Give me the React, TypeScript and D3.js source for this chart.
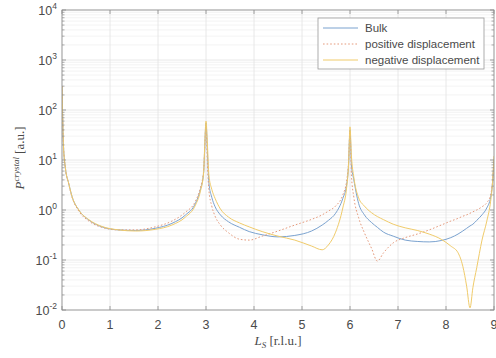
import React from 'react';
import * as d3 from 'd3';

// L_S sample positions (r.l.u.)
const L = [0, 0.03, 0.07, 0.14, 0.21, 0.35, 0.56, 0.83, 1.18, 1.53, 1.94, 2.29, 2.57, 2.78, 2.88, 2.95, 2.97, 3.0, 3.03, 3.06, 3.12, 3.19, 3.3, 3.47, 3.7, 3.9, 4.17, 4.5, 4.85, 5.2, 5.42, 5.55, 5.7, 5.85, 5.93, 5.97, 6.0, 6.03, 6.08, 6.18, 6.3, 6.45, 6.57, 6.7, 6.9, 7.15, 7.4, 7.65, 7.9, 8.1, 8.25, 8.35, 8.43, 8.5, 8.56, 8.64, 8.75, 8.85, 8.93, 8.97, 9.0];

const bulk = [300, 20, 7, 3.4, 1.85, 1.0, 0.63, 0.46, 0.4, 0.39, 0.43, 0.54, 0.79, 1.36, 2.5, 5.5, 14, 55, 14, 3.5, 1.8, 1.16, 0.8, 0.58, 0.45, 0.37, 0.32, 0.29, 0.31, 0.38, 0.5, 0.62, 0.86, 1.7, 3.2, 8, 40, 8, 4, 1.35, 0.8, 0.56, 0.45, 0.36, 0.3, 0.25, 0.235, 0.23, 0.245, 0.28, 0.33, 0.38, 0.43, 0.48, 0.52, 0.62, 0.8, 1.1, 1.8, 3.5, 10];

const positive = [300, 20, 7, 3.3, 1.8, 0.95, 0.6, 0.45, 0.4, 0.4, 0.46, 0.6, 0.9, 1.5, 2.7, 6, 14, 50, 8, 2.5, 1.2, 0.75, 0.5, 0.35, 0.26, 0.25, 0.3, 0.38, 0.5, 0.65, 0.8, 0.95, 1.2, 2.0, 3.8, 9, 38, 5, 1.8, 0.7, 0.35, 0.17, 0.095, 0.14, 0.22, 0.28, 0.33, 0.4, 0.5, 0.6, 0.68, 0.75, 0.8, 0.86, 0.92, 1.0, 1.16, 1.4, 2.0, 3.8, 10];

const negative = [300, 20, 7, 3.4, 1.85, 1.0, 0.64, 0.47, 0.4, 0.38, 0.41, 0.5, 0.72, 1.25, 2.3, 5.5, 16, 60, 20, 5, 2.6, 1.7, 1.05, 0.72, 0.55, 0.46, 0.37, 0.3, 0.25, 0.19, 0.16, 0.2, 0.36, 1.1, 2.8, 8, 46, 12, 4.5, 1.75, 1.2, 0.88, 0.74, 0.64, 0.52, 0.44, 0.39, 0.33, 0.26, 0.19, 0.14, 0.075, 0.03, 0.011, 0.028, 0.07, 0.25, 0.6, 1.5, 3.5, 12];

const xTicks = [0, 1, 2, 3, 4, 5, 6, 7, 8, 9];
const yExponents = [-2, -1, 0, 1, 2, 3, 4];
const seriesNames = ['Bulk', 'positive displacement', 'negative displacement'];

const W = 496;
const H = 358;
const PL = 62, PR = 494, PT = 10, PB = 310;

const COLORS = ['#7aa2cf', '#e59a7c', '#f0cb6a'];
const DASH = [undefined, '1.6 2', undefined];

export default function App() {
  const x = d3.scaleLinear().domain([0, 9]).range([PL, PR]);
  const y = d3.scaleLog().domain([1e-2, 1e4]).range([PB, PT]);

  const lineGen = d3
    .line<number>()
    .x((_, i) => x(L[i]))
    .y((d) => y(d))
    .curve(d3.curveMonotoneX);

  const series = [bulk, positive, negative];

  const minor: number[] = [];
  for (let e = -2; e < 4; e++) {
    for (let k = 2; k <= 9; k++) minor.push(k * Math.pow(10, e));
  }

  const axisColor = '#8c8c8c';
  const textColor = '#4a4a4a';
  const font = "'Liberation Sans', Arial, Helvetica, sans-serif";
  const serif = "'Liberation Serif', 'DejaVu Serif', serif";

  return (
    <svg width={W} height={H} style={{ position: 'absolute', left: 0, top: 0, background: '#fff' }}>
      <defs>
        <clipPath id="plotclip">
          <rect x={PL} y={PT} width={PR - PL} height={PB - PT} />
        </clipPath>
      </defs>
      <rect x={PL} y={PT} width={PR - PL} height={PB - PT} fill="#fff" />
      {/* minor grid */}
      {minor.map((v, i) => (
        <line key={'mg' + i} x1={PL} x2={PR} y1={y(v)} y2={y(v)} stroke="#f0f0f0" strokeWidth={0.8} />
      ))}
      {/* major grid */}
      {yExponents.map((e) => (
        <line key={'yg' + e} x1={PL} x2={PR} y1={y(Math.pow(10, e))} y2={y(Math.pow(10, e))} stroke="#e2e2e2" strokeWidth={0.8} />
      ))}
      {xTicks.map((t) => (
        <line key={'xg' + t} x1={x(t)} x2={x(t)} y1={PT} y2={PB} stroke="#e2e2e2" strokeWidth={0.8} />
      ))}
      {/* series */}
      <g clipPath="url(#plotclip)">
        {series.map((s, i) => (
          <path key={'s' + i} d={lineGen(s) || ''} fill="none" stroke={COLORS[i]} strokeWidth={1} strokeDasharray={DASH[i]} />
        ))}
      </g>
      {/* axes box */}
      <rect x={PL} y={PT} width={PR - PL} height={PB - PT} fill="none" stroke={axisColor} strokeWidth={0.8} />
      {/* x ticks */}
      {xTicks.map((t) => (
        <g key={'xt' + t}>
          <line x1={x(t)} x2={x(t)} y1={PB} y2={PB - 4} stroke={axisColor} strokeWidth={0.8} />
          <line x1={x(t)} x2={x(t)} y1={PT} y2={PT + 4} stroke={axisColor} strokeWidth={0.8} />
          <text x={x(t)} y={PB + 19} textAnchor="middle" fontFamily={font} fontSize={12.5} fill={textColor}>
            {t}
          </text>
        </g>
      ))}
      {/* y ticks */}
      {yExponents.map((e) => {
        const yy = y(Math.pow(10, e));
        return (
          <g key={'yt' + e}>
            <line x1={PL} x2={PL + 4} y1={yy} y2={yy} stroke={axisColor} strokeWidth={0.8} />
            <line x1={PR} x2={PR - 4} y1={yy} y2={yy} stroke={axisColor} strokeWidth={0.8} />
            <text x={PL - 5} y={yy + 5} textAnchor="end" fontFamily={font} fontSize={12.5} fill={textColor}>
              10
              <tspan dy={-6} fontSize={8.5}>{e}</tspan>
            </text>
          </g>
        );
      })}
      {minor.map((v, i) => (
        <g key={'mt' + i}>
          <line x1={PL} x2={PL + 2.5} y1={y(v)} y2={y(v)} stroke={axisColor} strokeWidth={0.7} />
          <line x1={PR} x2={PR - 2.5} y1={y(v)} y2={y(v)} stroke={axisColor} strokeWidth={0.7} />
        </g>
      ))}
      {/* axis labels */}
      <text x={278} y={345} textAnchor="middle" fontFamily={serif} fontSize={13} fill={textColor}>
        <tspan fontStyle="italic">L</tspan>
        <tspan fontStyle="italic" fontSize={9} dy={3}>S</tspan>
        <tspan dy={-3}> [r.l.u.]</tspan>
      </text>
      <text transform="translate(24,158) rotate(-90)" textAnchor="middle" fontFamily={serif} fontSize={13} fill={textColor}>
        <tspan fontStyle="italic">P</tspan>
        <tspan fontStyle="italic" fontSize={9} dy={-5}>crystal</tspan>
        <tspan dy={5}> [a.u.]</tspan>
      </text>
      {/* legend */}
      <rect x={318} y={18} width={166} height={51} fill="#fff" stroke="#9a9a9a" strokeWidth={0.8} />
      {seriesNames.map((n, i) => {
        const ly = 28 + i * 16;
        return (
          <g key={'lg' + i}>
            <line x1={323} x2={358} y1={ly} y2={ly} stroke={COLORS[i]} strokeWidth={1} strokeDasharray={DASH[i]} />
            <text x={365} y={ly + 4} fontFamily={font} fontSize={11.5} fill={textColor}>
              {n}
            </text>
          </g>
        );
      })}
    </svg>
  );
}
